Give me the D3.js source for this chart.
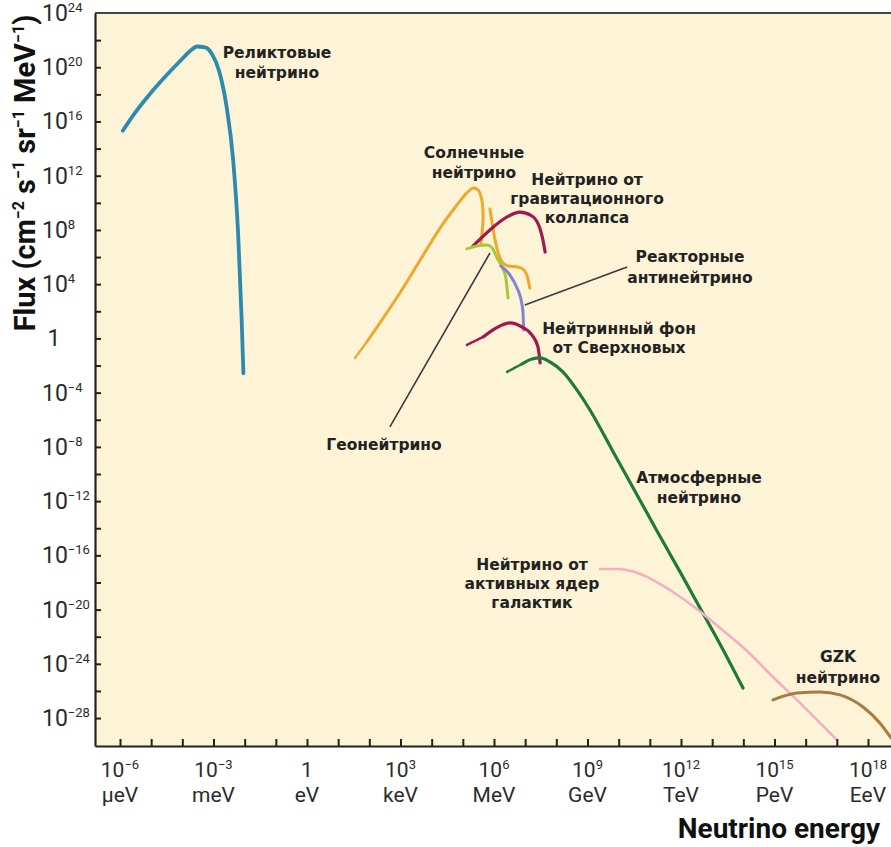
<!DOCTYPE html>
<html>
<head>
<meta charset="utf-8">
<script src="https://cdn.jsdelivr.net/npm/d3@7"></script>
<style>
  body { margin: 0; background: #fff; }
  svg text { font-family: Roboto, "DejaVu Sans", sans-serif; white-space: pre; }
  .note { font-family: "DejaVu Sans", sans-serif; font-weight: bold; font-size: 15.5px; fill: #222; }
</style>
</head>
<body>
<svg id="chart" width="891" height="847"></svg>
<script>
// values, as exponents: log10(E / eV) and log10(flux)
const relicLogE = [-5.91, -5.52, -5.04, -4.56, -4.07, -3.75, -3.53, -3.27, -3.05, -2.82, -2.58, -2.37, -2.21, -2.10, -2.04];
const relicLogF = [15.32, 16.63, 18.03, 19.28, 20.46, 21.20, 21.53, 21.46, 20.98, 19.72, 17.09, 13.16, 7.75, 1.60, -2.57];

const solarDotLogE = [1.54, 1.92];
const solarDotLogF = [-1.44, -0.26];
const solarLogE = [1.92, 2.98, 4.27, 4.81, 5.13, 5.33, 5.49, 5.61, 5.65, 5.61, 5.58];
const solarLogF = [-0.26, 3.35, 8.14, 9.84, 10.73, 11.09, 10.95, 10.21, 8.73, 7.63, 6.89];
const solarB8LogE = [5.87, 5.97, 6.10, 6.26, 6.45, 6.77, 6.96, 7.09, 7.15];
const solarB8LogF = [9.55, 8.07, 6.60, 5.64, 5.34, 5.27, 5.05, 4.38, 3.72];

const collapseLogE = [5.33, 5.87, 6.42, 6.83, 7.22, 7.48, 7.57, 7.64];
const collapseLogF = [6.82, 8.00, 8.96, 9.32, 9.03, 8.07, 7.26, 6.37];

const geoLogE = [5.13, 5.45, 5.77, 5.94, 6.10, 6.26, 6.38, 6.45];
const geoLogF = [6.60, 6.82, 6.89, 6.67, 5.93, 5.27, 4.46, 2.98];

const reactorLogE = [6.22, 6.51, 6.74, 6.87, 6.93, 6.95];
const reactorLogF = [5.34, 4.68, 3.72, 2.83, 1.95, 0.62];

const snDotLogE = [5.13, 5.65];
const snDotLogF = [-0.48, 0.11];
const snLogE = [5.65, 6.19, 6.51, 6.90, 7.22, 7.41, 7.48];
const snLogF = [0.11, 0.92, 1.14, 0.84, 0.25, -0.63, -1.81];

const atmDotLogE = [6.42, 6.90];
const atmDotLogF = [-2.47, -1.88];
const atmLogE = [6.90, 7.22, 7.48, 7.80, 8.21, 8.66, 9.08, 9.79, 10.52, 11.23, 11.97, 12.70, 13.25, 13.99];
const atmLogF = [-1.88, -1.52, -1.44, -1.74, -2.47, -3.80, -5.28, -8.23, -11.25, -14.20, -17.22, -20.25, -22.53, -25.78];

const agnDotLogE = [9.40, 10.04];
const agnDotLogF = [-17.00, -17.00];
const agnLogE = [10.04, 10.52, 10.91, 11.32, 11.74, 12.51, 13.25, 14.12, 14.95, 15.72, 16.46, 17.00];
const agnLogF = [-17.00, -17.22, -17.59, -18.11, -18.70, -19.95, -21.35, -23.05, -24.97, -26.66, -28.36, -29.61];

const gzkLogE = [14.95, 15.72, 16.46, 17.10, 17.84, 18.38, 18.74];
const gzkLogF = [-26.66, -26.15, -26.07, -26.29, -27.18, -28.36, -29.47];

// pointer lines from the labels to the curves
const geoPointerLogE = [5.87, 2.66];
const geoPointerLogF = [6.30, -6.53];
const reactorPointerLogE = [6.99, 10.27];
const reactorPointerLogF = [2.47, 5.27];

const yLabelExps = [24, 20, 16, 12, 8, 4, 0, -4, -8, -12, -16, -20, -24, -28];
const xLabelExps = [-6, -3, 0, 3, 6, 9, 12, 15, 18];
const xUnits = ["µeV", "meV", "eV", "keV", "MeV", "GeV", "TeV", "PeV", "EeV"];

const svg = d3.select("#chart");
const plot = { left: 95, right: 891, top: 13, bottom: 746 };

const x = d3.scaleLog().domain([10 ** -6.802, 10 ** 18.738]).range([plot.left, plot.right]);
const y = d3.scaleLog().domain([10 ** -30.06, 1e24]).range([plot.bottom, plot.top]);

// background of the plot
svg.append("rect")
  .attr("x", plot.left).attr("y", plot.top)
  .attr("width", plot.right - plot.left).attr("height", plot.bottom - plot.top)
  .attr("fill", "#fdf3d7");

svg.append("clipPath").attr("id", "clip")
  .append("rect")
  .attr("x", plot.left).attr("y", plot.top)
  .attr("width", plot.right - plot.left).attr("height", plot.bottom - plot.top);

const pts = (es, fs) => es.map((e, i) => [e, fs[i]]);
const smooth = d3.line()
  .x(d => x(10 ** d[0]))
  .y(d => y(10 ** d[1]))
  .curve(d3.curveMonotoneX);
// the pp part of the solar spectrum turns back on itself, so it needs another curve
const loose = d3.line()
  .x(d => x(10 ** d[0]))
  .y(d => y(10 ** d[1]))
  .curve(d3.curveCatmullRom.alpha(0.5));

const series = [
  { d: pts(relicLogE, relicLogF), color: "#2b8aae", w: 3.8 },
  { d: pts(solarDotLogE, solarDotLogF), color: "#eda92c", w: 2.5, dash: "2,1.5" },
  { d: pts(solarLogE, solarLogF), color: "#eda92c", w: 3, loose: true },
  { d: pts(solarB8LogE, solarB8LogF), color: "#eda92c", w: 3 },
  { d: pts(collapseLogE, collapseLogF), color: "#a3184c", w: 3.2 },
  { d: pts(geoLogE, geoLogF), color: "#a8c83a", w: 3 },
  { d: pts(reactorLogE, reactorLogF), color: "#8484cc", w: 3 },
  { d: pts(snDotLogE, snDotLogF), color: "#a3184c", w: 2.5, dash: "2,1.5" },
  { d: pts(snLogE, snLogF), color: "#a3184c", w: 3.2 },
  { d: pts(atmDotLogE, atmDotLogF), color: "#1f7a3a", w: 2.5, dash: "2,1.5" },
  { d: pts(atmLogE, atmLogF), color: "#1f7a3a", w: 3.2 },
  { d: pts(agnDotLogE, agnDotLogF), color: "#f3afbf", w: 2.5, dash: "2,1.5" },
  { d: pts(agnLogE, agnLogF), color: "#f3afbf", w: 2.6 },
  { d: pts(gzkLogE, gzkLogF), color: "#a67c45", w: 3 }
];

const curves = svg.append("g").attr("clip-path", "url(#clip)");
curves.selectAll("path.curve")
  .data(series)
  .join("path")
  .attr("class", "curve")
  .attr("d", s => (s.loose ? loose : smooth)(s.d))
  .attr("fill", "none")
  .attr("stroke", s => s.color)
  .attr("stroke-width", s => s.w)
  .attr("stroke-linecap", "round")
  .attr("stroke-dasharray", s => s.dash || null);

// pointer lines
const straight = d3.line().x(d => x(10 ** d[0])).y(d => y(10 ** d[1]));
[pts(geoPointerLogE, geoPointerLogF), pts(reactorPointerLogE, reactorPointerLogF)].forEach(p => {
  curves.append("path").attr("d", straight(p))
    .attr("stroke", "#3a3a3a").attr("stroke-width", 1.6).attr("fill", "none");
});

// axes: ticks point into the plot
const xAxis = d3.axisBottom(x)
  .tickValues(d3.range(-6, 19).map(e => 10 ** e))
  .tickSize(-7).tickSizeOuter(0).tickFormat("");
const yAxis = d3.axisLeft(y)
  .tickValues(d3.range(-28, 24, 2).map(e => 10 ** e))
  .tickSize(-6).tickSizeOuter(0).tickFormat("");

const gx = svg.append("g").attr("transform", `translate(0,${plot.bottom})`).call(xAxis);
const gy = svg.append("g").attr("transform", `translate(${plot.left},0)`).call(yAxis);
[gx, gy].forEach(g => {
  g.select(".domain").attr("stroke", "#222").attr("stroke-width", 2.2);
  g.selectAll(".tick line").attr("stroke", "#222").attr("stroke-width", 2);
});
svg.append("line")
  .attr("x1", plot.left).attr("x2", plot.right)
  .attr("y1", plot.top).attr("y2", plot.top)
  .attr("stroke", "#444").attr("stroke-width", 2);

// text with superscripts
function rich(sel, parts, supSize, rise) {
  let up = false;
  parts.forEach(p => {
    const t = sel.append("tspan").text(p.t);
    if (p.sup) {
      t.attr("font-size", supSize);
      if (!up) { t.attr("dy", -rise); up = true; }
    } else if (up) {
      t.attr("dy", rise); up = false;
    }
  });
}
const minus = e => (e < 0 ? "\u2212" + (-e) : String(e));

// y tick labels
yLabelExps.forEach(e => {
  const yy = y(10 ** e) + 8;
  if (e === 0) {
    svg.append("text").attr("x", 54).attr("y", yy).attr("text-anchor", "middle")
      .attr("font-size", 23).attr("fill", "#2b2b2b").text("1");
    return;
  }
  const t = svg.append("text").attr("x", 42).attr("y", yy)
    .attr("font-size", 23).attr("fill", "#2b2b2b");
  rich(t, [{ t: "10" }, { t: minus(e), sup: true }], 13, 9);
});

// x tick labels with unit names
xLabelExps.forEach((e, i) => {
  const xx = x(10 ** e);
  const t = svg.append("text").attr("x", xx).attr("y", 777)
    .attr("text-anchor", "middle").attr("font-size", 21).attr("fill", "#2b2b2b");
  if (e === 0) t.text("1");
  else rich(t, [{ t: "10" }, { t: minus(e), sup: true }], 13, 8);
  svg.append("text").attr("x", xx).attr("y", 802)
    .attr("text-anchor", "middle").attr("font-size", 21).attr("fill", "#2b2b2b")
    .text(xUnits[i]);
});

// axis titles
svg.append("text")
  .attr("x", 880).attr("y", 838).attr("text-anchor", "end")
  .attr("font-size", 28).attr("font-weight", "bold").attr("fill", "#111")
  .text("Neutrino energy");

const yt = svg.append("text")
  .attr("transform", "translate(35,173) rotate(-90)")
  .attr("text-anchor", "middle")
  .attr("font-size", 29).attr("font-weight", "bold").attr("fill", "#111");
rich(yt, [
  { t: "Flux (cm" }, { t: "\u22122", sup: true }, { t: " s" }, { t: "\u22121", sup: true },
  { t: " sr" }, { t: "\u22121", sup: true }, { t: " MeV" }, { t: "\u22121", sup: true }, { t: ")" }
], 16, 11);

// curve names
const notes = [
  { lines: ["Реликтовые", "нейтрино"], x: 277, y: 58, gap: 20 },
  { lines: ["Солнечные", "нейтрино"], x: 474, y: 158, gap: 19.5 },
  { lines: ["Нейтрино от", "гравитационного", "коллапса"], x: 587, y: 185, gap: 19 },
  { lines: ["Реакторные", "антинейтрино"], x: 690, y: 262, gap: 20.5 },
  { lines: ["Нейтринный фон", "от Сверхновых"], x: 619, y: 334, gap: 19 },
  { lines: ["Геонейтрино"], x: 384, y: 450, gap: 20 },
  { lines: ["Атмосферные", "нейтрино"], x: 699, y: 483, gap: 20 },
  { lines: ["Нейтрино от", "активных ядер", "галактик"], x: 532, y: 570, gap: 19 },
  { lines: ["GZK", "нейтрино"], x: 838, y: 662, gap: 21 }
];
notes.forEach(n => {
  n.lines.forEach((s, i) => {
    svg.append("text").attr("class", "note")
      .attr("x", n.x).attr("y", n.y + i * n.gap)
      .attr("text-anchor", "middle").text(s);
  });
});
</script>
</body>
</html>
